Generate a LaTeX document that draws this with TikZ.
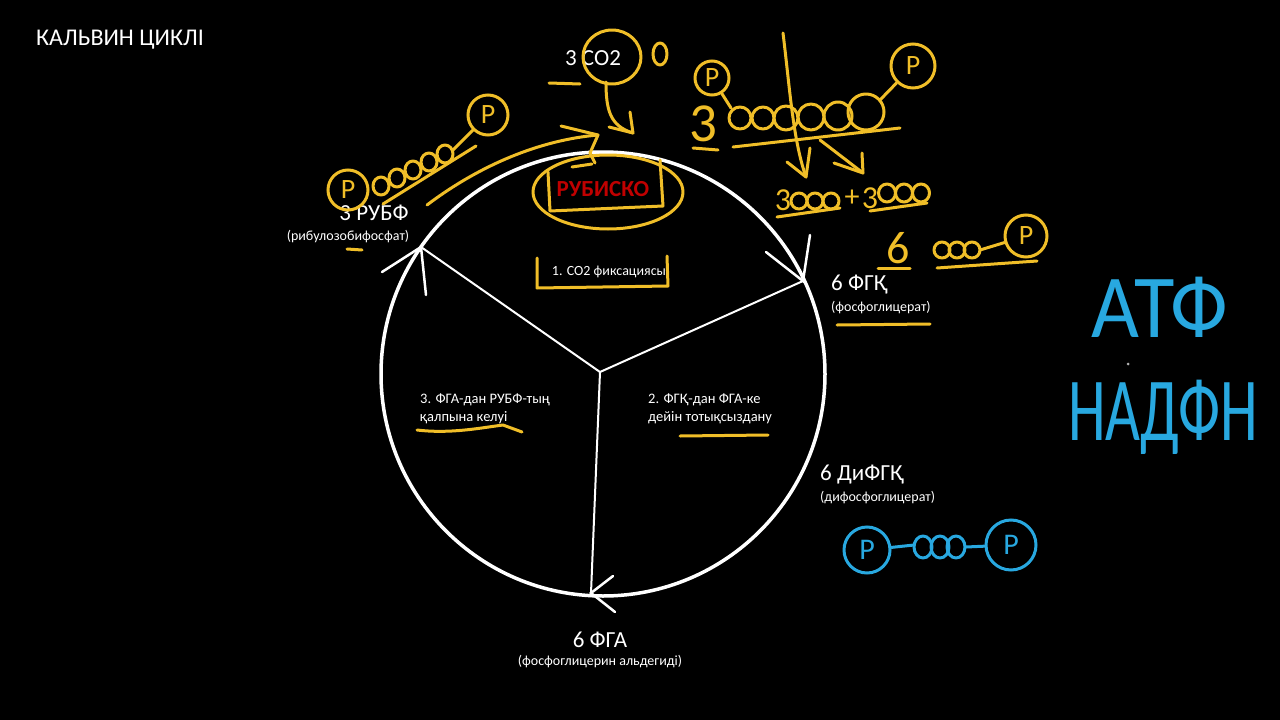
\documentclass[tikz,border=0pt]{standalone}
\usepackage{fontspec}
\setmainfont{Carlito}
\definecolor{hy}{RGB}{240,190,40}
\definecolor{hb}{RGB}{40,168,224}
\definecolor{rub}{RGB}{192,0,0}
\tikzset{
  lbl/.style={text=white, font=\fontsize{23}{26}\selectfont, inner sep=0},
  sub/.style={text=white, font=\fontsize{14}{16}\selectfont, inner sep=0},
  stepl/.style={text=white, font=\fontsize{14.5}{17.5}\selectfont, inner sep=0, align=left, anchor=north west},
  pen/.style={hy, line width=3pt, line cap=round, line join=round},
  bpen/.style={hb, line width=3pt, line cap=round, line join=round},
  ring/.style={white, line width=3.5pt},
  spoke/.style={white, line width=2pt},
  tip/.style={white, line width=2.5pt, line cap=round},
  pc/.style={circle, draw=hy, line width=3pt, text=hy, inner sep=0, minimum size=#1, font=\fontsize{28}{28}\selectfont},
  bc/.style={circle, draw=hb, line width=3pt, text=hb, inner sep=0, minimum size=#1, font=\fontsize{30}{30}\selectfont},
  hw/.style={text=hy, inner sep=0},
  hwb/.style={text=hb, inner sep=0},
}
\begin{document}
\begin{tikzpicture}[x=1pt,y=-1pt]
\fill[black] (0,0) rectangle (1280,720);
\useasboundingbox (0,0) rectangle (1280,720);

% ---- cycle ----
\coordinate (cc) at (603,374);
\coordinate (ctr) at (600,372);
\coordinate (p1) at (421,247);
\coordinate (p2) at (803,281);
\coordinate (p3) at (591,593);
\draw[ring] (cc) circle (222);
\draw[spoke] (ctr) -- (p1);
\draw[spoke] (ctr) -- (p2);
\draw[spoke] (ctr) -- (p3);
\coordinate (a1l) at (382,272); \coordinate (a1r) at (426,295);
\coordinate (a2l) at (766,252); \coordinate (a2r) at (810,235);
\coordinate (a3l) at (613,576); \coordinate (a3r) at (615,612);
\draw[tip] (a1l) -- (p1) -- (a1r);
\draw[tip] (a2l) -- (p2) -- (a2r);
\draw[tip] (a3l) -- (p3) -- (a3r);

% ---- printed text ----
\node[lbl, anchor=west, font=\fontsize{24}{27}\selectfont] (title) at (36,40) {КАЛЬВИН ЦИКЛІ};
\node[lbl] (co2) at (593,58) {3 CO2};
\node[lbl] (rubf) at (374,213) {3 РУБФ};
\node[sub] (rubfs) at (348,237) {(рибулозобифосфат)};
\node[lbl, anchor=west] (fgk) at (831,285) {6 ФГҚ};
\node[sub, anchor=west] (fgks) at (831,308) {(фосфоглицерат)};
\node[lbl, anchor=west] (difgk) at (820,475) {6 ДиФГҚ};
\node[sub, anchor=west] (difgks) at (820,498) {(дифосфоглицерат)};
\node[lbl] (fga) at (600,640) {6 ФГА};
\node[sub] (fgas) at (600,662) {(фосфоглицерин альдегиді)};
\node[sub] (st1) at (609,272) {1. CO2 фиксациясы};
\node[stepl] (st3) at (420,394) {3. ФГА-дан РУБФ-тың\\қалпына келуі};
\node[stepl] (st2) at (648,394) {2. ФГҚ-дан ФГА-ке\\дейін тотықсыздану};
\node[text=rub, font=\bfseries\fontsize{23}{25}\selectfont, inner sep=0] (rubisco) at (603,189) {РУБИСКО};

% ---- yellow annotations ----
% CO2
\draw[pen] (612,57) ellipse (29 and 27);
\draw[pen] (660,54) ellipse (7 and 11);
\draw[pen] (549,83) -- (580,84);
\coordinate (c2a) at (606,82);
\coordinate (c2b) at (633,133);
\draw[pen] (c2a) .. controls (606,110) and (610,126) .. (c2b);
\draw[pen] (609,127) -- (c2b) -- (630,112);
% rubisco
\draw[pen] (608,192) ellipse (75 and 37);
\draw[pen] (548,172) -- (550,211) -- (663,206) -- (660,160);
\draw[pen] (572,167) -- (592,164);
% arrow RuBP -> rubisco
\coordinate (la) at (427,205);
\coordinate (lb) at (598,135);
\draw[pen] (la) .. controls (480,165) and (540,140) .. (lb);
\draw[pen] (561,126) -- (lb) -- (590,153) -- (595,163);
% RuBP chain
\node[pc=40] (pl) at (348,190) {P};
\foreach \i in {0,...,4} {
  \draw[pen] ({381+16*\i},{186-8*\i}) ellipse (8 and 9);
}
\node[pc=40] (pr) at (488,115) {P};
\draw[pen] (453,150) -- (pr);
\draw[pen] (383,204) -- (476,146);
\draw[pen] (347,249) -- (362,250);
% step1 bracket
\draw[pen] (537,258) -- (537,288) -- (668,286) -- (667,256);
% 3 x six-carbon
\node[pc=34] (q1) at (712,78) {P};
\node[hw, font=\fontsize{55}{55}\selectfont] (three) at (703,124) {3};
\draw[pen] (693,148) -- (718,150);
\draw[pen] (q1) -- (731,108);
\draw[pen] (740,118) circle (11);
\draw[pen] (763,118) circle (11);
\draw[pen] (786,118) circle (12);
\draw[pen] (811,117) circle (13);
\draw[pen] (838,116) circle (14);
\draw[pen] (866,112) circle (18);
\node[pc=44] (q2) at (913,66) {P};
\draw[pen] (880,100) -- (q2);
\draw[pen] (733,147) -- (900,128);
\coordinate (va) at (783,33);
\coordinate (vb) at (806,177);
\draw[pen] (va) .. controls (790,90) and (793,140) .. (vb);
\draw[pen] (787,162) -- (vb) -- (810,148);
\coordinate (da) at (820,140);
\coordinate (db) at (863,173);
\draw[pen] (da) -- (db);
\draw[pen] (834,163) -- (db) -- (862,153);
% 3ooo + 3ooo
\node[hw, font=\fontsize{32}{32}\selectfont] (t3a) at (783,200) {3};
\foreach \x in {799,815,831} \draw[pen] (\x,201) ellipse (8 and 8);
\node[hw, font=\fontsize{30}{30}\selectfont] (plus) at (852,198) {+};
\node[hw, font=\fontsize{32}{32}\selectfont] (t3b) at (870,198) {3};
\foreach \x in {887,904,921} \draw[pen] (\x,193) ellipse (8.5 and 9);
\draw[pen] (777,217) -- (840,208);
\draw[pen] (870,211) -- (927,203);
% 6 ooo-P
\node[hw, font=\fontsize{46}{46}\selectfont] (six) at (898,248) {6};
\draw[pen] (878,268) -- (910,268);
\foreach \x in {942,957,972} \draw[pen] (\x,250) ellipse (8 and 8);
\node[pc=42] (q3) at (1026,236) {P};
\draw[pen] (980,250) -- (q3);
\draw[pen] (937,268) -- (1037,261);
\draw[pen] (837,325) -- (930,324);
% step underlines
\draw[pen] (417,430) .. controls (450,434) and (480,428) .. (503,425) -- (522,432);
\draw[pen] (680,436) -- (768,435);

% ---- blue annotations ----
\node[bc=46] (b1) at (867,550) {P};
\node[bc=50] (b2) at (1011,545) {P};
\draw[bpen] (b1) -- (914,545);
\foreach \x in {923,940,956} \draw[bpen] (\x,547) ellipse (9 and 11);
\draw[bpen] (966,547) -- (b2);
\node[hwb, font=\fontsize{90}{90}\selectfont] (atf) at (1160,307) {\scalebox{0.92}[1]{АТФ}};
\node[hwb, font=\fontsize{90}{90}\selectfont] (nadfn) at (1163,417) {\scalebox{0.67}[1]{НАДФН}};
\fill[gray!60] (1128,364) circle (1.5);
\end{tikzpicture}
\end{document}
